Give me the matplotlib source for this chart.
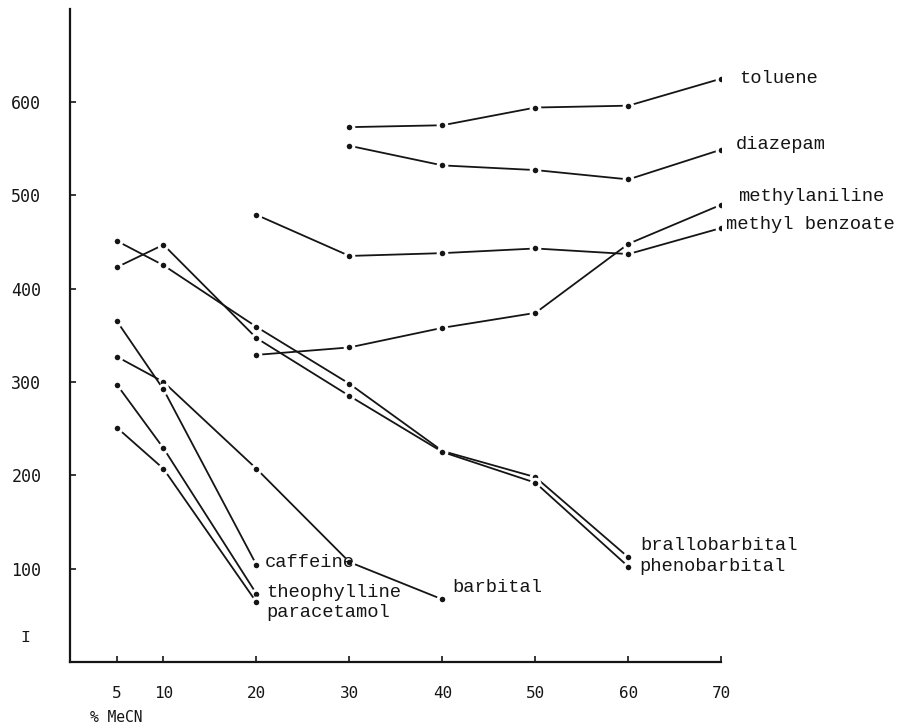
import matplotlib
matplotlib.use('Agg')
import matplotlib.pyplot as plt

# % MeCN vs I
x_tol = [30, 40, 50, 60, 70]
toluene = [573, 575, 594, 596, 625]
x_dia = [30, 40, 50, 60, 70]
diazepam = [553, 532, 527, 517, 549]
x_mb = [20, 30, 40, 50, 60, 70]
methyl_benzoate = [479, 435, 438, 443, 437, 465]
x_ma = [20, 30, 40, 50, 60, 70]
methylaniline = [329, 337, 358, 374, 448, 490]
x_barb = [5, 10, 20, 30, 40, 50, 60]
brallobarbital = [451, 425, 359, 298, 226, 198, 112]
phenobarbital = [423, 447, 347, 285, 225, 192, 102]
x_bar = [5, 10, 20, 30, 40]
barbital = [327, 300, 207, 107, 67]
x_x = [5, 10, 20]
caffeine = [365, 292, 104]
theophylline = [297, 229, 73]
paracetamol = [251, 207, 64]

xticks = [5, 10, 20, 30, 40, 50, 60, 70]
yticks = [100, 200, 300, 400, 500, 600]

ink = '#151515'
mono = 'Liberation Mono'
tickfont = 'DejaVu Sans Mono'

fig = plt.figure(figsize=(9.13, 7.28), dpi=100)
ax = fig.add_axes([0.0772, 0.0907, 0.7130, 0.8975])

series = [
    (x_tol, toluene, 'toluene', (12.5, 0)),
    (x_dia, diazepam, 'diazepam', (10.3, 3.6)),
    (x_ma, methylaniline, 'methylaniline', (12, 5.8)),
    (x_mb, methyl_benzoate, 'methyl benzoate', (3.4, 2.7)),
    (x_barb, brallobarbital, 'brallobarbital', (8.4, 8.4)),
    (x_barb, phenobarbital, 'phenobarbital', (7.9, 0)),
    (x_bar, barbital, 'barbital', (7, 8.9)),
    (x_x, caffeine, 'caffeine', (6, 1.9)),
    (x_x, theophylline, 'theophylline', (6.8, 1.2)),
    (x_x, paracetamol, 'paracetamol', (6.8, -7.2)),
]

for xs, ys, name, off in series:
    ax.plot(xs, ys, color=ink, lw=1.3, marker='o', ms=6.2,
            mfc=ink, mec='white', mew=2.2)
    ax.annotate(name, xy=(xs[-1], ys[-1]), xytext=off,
                textcoords='offset points', ha='left', va='center',
                fontsize=13.5, family=mono, color=ink)

ax.set_xlim(0, 70)
ax.set_ylim(0, 700)
ax.set_xticks(xticks)
ax.set_yticks(yticks)
ax.set_xticklabels([str(t) for t in xticks], family=tickfont, fontsize=11.5)
ax.set_yticklabels([str(t) for t in yticks], family=tickfont, fontsize=12)
ax.tick_params(axis='x', direction='in', length=4, width=1.2, pad=17, colors=ink)
ax.tick_params(axis='y', direction='in', length=4, width=1.2, pad=21, colors=ink)
ax.spines['top'].set_visible(False)
ax.spines['right'].set_visible(False)
for s in ['left', 'bottom']:
    ax.spines[s].set_linewidth(1.6)
    ax.spines[s].set_color(ink)

fig.text(25.7 / 913, 1 - 638 / 728, 'I', family=mono, fontsize=12,
         ha='center', va='center', color=ink)
fig.text(90 / 913, 1 - 718 / 728, '% MeCN', family=tickfont, fontsize=10.5,
         ha='left', va='center', color=ink)

fig.savefig('out.png', dpi=100, facecolor='white')
